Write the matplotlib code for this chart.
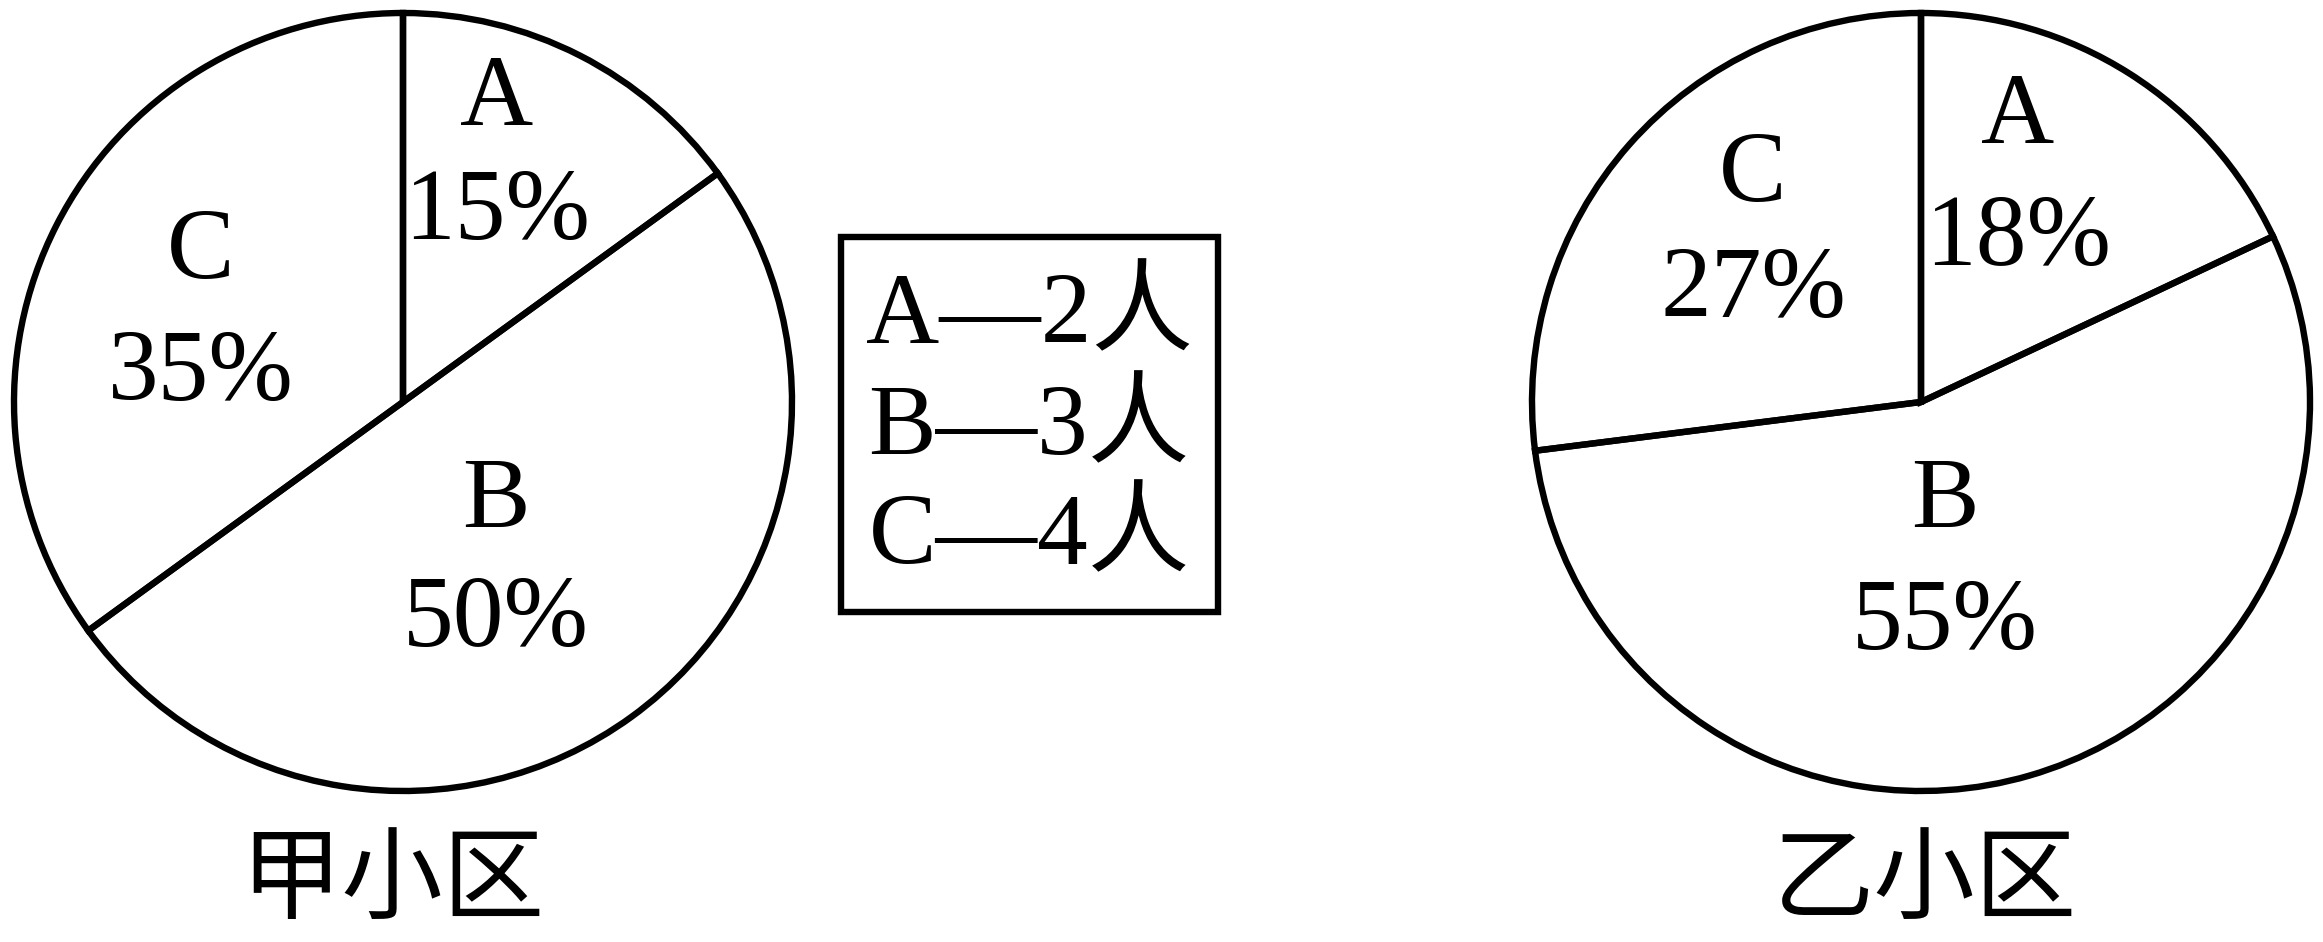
import matplotlib
matplotlib.use("Agg")
import matplotlib.pyplot as plt
from matplotlib.patches import Rectangle

# dati
categorie = ["A", "B", "C"]
jia_percent = [15, 50, 35]
yi_percent = [18, 55, 27]
persone = [2, 3, 4]
titoli = ["甲小区", "乙小区"]

W, H = 2323, 942
fonts = ["Liberation Serif", "Noto Sans CJK SC"]
fs = 73
lw = 4.6

fig = plt.figure(figsize=(W / 100, H / 100), dpi=100)
ax = fig.add_axes([0, 0, 1, 1])


def y(v):
    # coordinate immagine -> coordinate asse
    return H - v


def torta(valori, cx, cy, r):
    ax.pie(valori, center=(cx, y(cy)), radius=r, startangle=90, counterclock=False,
           wedgeprops=dict(fill=False, edgecolor="black", linewidth=lw))


torta(jia_percent, 403, 402, 389)
torta(yi_percent, 1921, 402, 389)

# posizioni delle etichette (A, B, C) per ogni torta
pos_jia = [(497, 101, 215), (496, 504, 622), (201, 255, 376)]
pos_yi = [(2018, 119, 241), (1945, 504, 625), (1753, 178, 293)]

for valori, pos in ((jia_percent, pos_jia), (yi_percent, pos_yi)):
    for cat, v, (px, py1, py2) in zip(categorie, valori, pos):
        ax.text(px, y(py1), cat, fontsize=fs, family=fonts, ha="center", va="center")
        ax.text(px, y(py2), f"{v}%", fontsize=fs, family=fonts, ha="center", va="center")

# legenda
ax.add_patch(Rectangle((841, y(612)), 1218 - 841, 612 - 237, fill=False,
                       edgecolor="black", linewidth=lw))
for cat, n, py in zip(categorie, persone, [319, 431, 540]):
    ax.text(1029, y(py), f"{cat}—{n}人", fontsize=fs, family=fonts, ha="center", va="center")

# titoli sotto
ax.text(392, y(887), titoli[0], fontsize=fs, family=fonts, ha="center", va="center")
ax.text(1925, y(887), titoli[1], fontsize=fs, family=fonts, ha="center", va="center")

ax.set_xlim(0, W)
ax.set_ylim(0, H)
ax.set_aspect("equal")
ax.axis("off")

fig.savefig("out.png", dpi=100, facecolor="white")
